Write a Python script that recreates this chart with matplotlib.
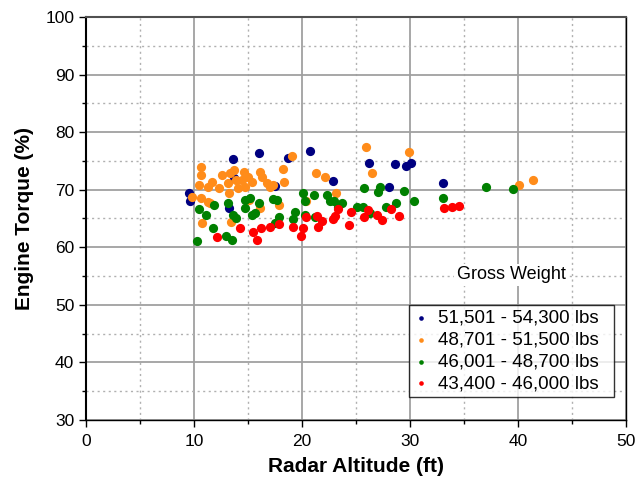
import matplotlib
matplotlib.use("Agg")
import matplotlib.pyplot as plt
from matplotlib.ticker import MultipleLocator

plt.rcParams['font.family'] = ['Liberation Sans', 'DejaVu Sans']

# 51,501 - 54,300 lbs
alt_w1 = [9.5, 9.6, 13.2, 13.6, 13.7, 16.0, 17.5, 18.7, 20.7, 22.9, 26.2, 28.1, 28.6, 29.6, 30.1, 33.1]
tq_w1 = [69.4, 68.1, 66.8, 75.3, 72.1, 76.4, 70.6, 75.5, 76.7, 71.6, 74.6, 70.4, 74.5, 74.1, 74.6, 71.2]

# 48,701 - 51,500 lbs
alt_w2 = [10.65, 10.65, 10.46, 9.81, 10.65, 11.30, 11.67, 11.30, 10.74, 12.31, 12.59, 13.15, 13.24,
          13.33, 13.70, 13.89, 14.44, 14.63, 15.00, 15.37, 14.72, 14.07, 16.11, 16.30, 16.76, 17.04,
          17.31, 18.24, 18.33, 19.07, 17.87, 16.11, 13.43, 21.30, 22.13, 23.15, 25.93, 26.48, 29.91,
          40.09, 41.39, 15.09, 20.37, 11.48]
tq_w2 = [73.9, 72.6, 70.8, 68.7, 68.6, 70.5, 71.3, 67.9, 64.2, 70.3, 72.6, 71.2, 69.4,
         72.9, 73.4, 71.7, 71.7, 73.1, 72.2, 71.3, 70.5, 70.3, 73.1, 72.2, 71.2, 70.5,
         70.8, 73.6, 71.3, 75.9, 67.3, 66.8, 64.4, 72.9, 72.2, 69.4, 77.4, 72.9, 76.5,
         70.8, 71.7, 68.2, 68.0, 67.7]

# 46,001 - 48,700 lbs
alt_w3 = [10.46, 11.11, 11.85, 11.76, 10.28, 12.96, 13.15, 13.52, 13.61, 13.89, 14.72, 15.19,
          14.72, 15.37, 16.02, 17.31, 17.69, 17.87, 17.50, 19.35, 19.17, 20.09, 20.28, 21.11,
          22.31, 22.59, 22.96, 23.70, 23.33, 25.09, 25.65, 25.74, 27.22, 27.04, 27.78, 28.70,
          26.30, 29.44, 30.37, 33.06, 37.04, 39.54, 20.28, 21.20, 15.65]
tq_w3 = [66.7, 65.6, 67.3, 63.4, 61.1, 62.0, 67.7, 61.3, 65.6, 65.1, 68.2, 68.6,
         66.8, 65.6, 67.7, 68.4, 68.2, 65.3, 64.2, 66.1, 64.9, 69.4, 68.0, 69.1,
         69.1, 68.0, 68.0, 67.7, 67.0, 67.0, 67.0, 70.3, 70.5, 69.6, 67.0, 67.7,
         66.0, 69.8, 68.0, 68.6, 70.5, 70.1, 65.6, 65.3, 66.0]

# 43,400 - 46,000 lbs
alt_w4 = [12.13, 14.26, 15.46, 15.83, 16.20, 17.04, 17.87, 19.17, 19.91, 20.09, 20.37, 21.39,
          21.48, 21.85, 22.87, 23.06, 23.33, 24.35, 24.54, 25.74, 26.11, 26.94, 27.41, 28.24,
          28.98, 33.15, 33.89, 34.54]
tq_w4 = [61.8, 63.4, 62.7, 61.3, 63.4, 63.5, 64.0, 63.5, 62.0, 63.4, 65.3, 65.4,
         63.5, 64.6, 64.9, 65.4, 66.7, 63.9, 66.1, 65.3, 66.5, 65.6, 64.7, 66.7,
         65.4, 66.8, 67.0, 67.2]

labels = ['51,501 - 54,300 lbs', '48,701 - 51,500 lbs', '46,001 - 48,700 lbs', '43,400 - 46,000 lbs']
colors = ['#000080', '#FF8C1A', '#008000', '#FF0000']

fig = plt.figure(figsize=(6.38, 4.92), dpi=100)
ax = fig.add_axes([86 / 638, 1 - 420 / 492, 540 / 638, 403 / 492])

series = [(alt_w1, tq_w1), (alt_w2, tq_w2), (alt_w3, tq_w3), (alt_w4, tq_w4)]
for (x, y), c, lab in zip(series, colors, labels):
    ax.scatter(x, y, s=44, color=c, label=lab, zorder=3, linewidths=0)

ax.set_xlim(0, 50)
ax.set_ylim(30, 100)
ax.xaxis.set_major_locator(MultipleLocator(10))
ax.xaxis.set_minor_locator(MultipleLocator(5))
ax.yaxis.set_major_locator(MultipleLocator(10))
ax.yaxis.set_minor_locator(MultipleLocator(5))
ax.grid(which='major', color='#A0A0A0', linewidth=1.3, zorder=0)
ax.grid(which='minor', color='#B0B0B0', linewidth=1.0, linestyle=(0, (1.5, 2.5)), zorder=0)
ax.set_axisbelow(True)

for side in ['left', 'bottom', 'right']:
    ax.spines[side].set_color('black')
ax.spines['left'].set_linewidth(1.5)
ax.spines['bottom'].set_linewidth(1.0)
ax.spines['right'].set_linewidth(1.0)
ax.spines['top'].set_color('#505050')
ax.spines['top'].set_linewidth(1.5)

ax.tick_params(axis='both', which='major', labelsize=12.5, length=5, width=1, color='black')
ax.tick_params(axis='both', which='minor', length=3, width=1, color='black')
ax.tick_params(axis='x', pad=5)

ax.set_xlabel('Radar Altitude (ft)', fontsize=15, fontweight='bold', labelpad=6)
ax.set_ylabel('Engine Torque (%)', fontsize=15, fontweight='bold', labelpad=8)

leg = ax.legend(loc='lower left', bbox_to_anchor=(0.598, 0.057, 0.38, 0.251), mode='expand',
                fontsize=13.5, frameon=True, fancybox=False, edgecolor='black', handletextpad=0.5,
                borderpad=0.25, labelspacing=0.25, handlelength=0.8, markerscale=0.5,
                borderaxespad=0)
leg.get_frame().set_linewidth(1.0)
ax.text(0.788, 0.36, 'Gross Weight', transform=ax.transAxes, ha='center', va='center',
        fontsize=13, zorder=5,
        bbox=dict(facecolor='white', edgecolor='none', pad=2))

fig.savefig('out.png', dpi=100)
